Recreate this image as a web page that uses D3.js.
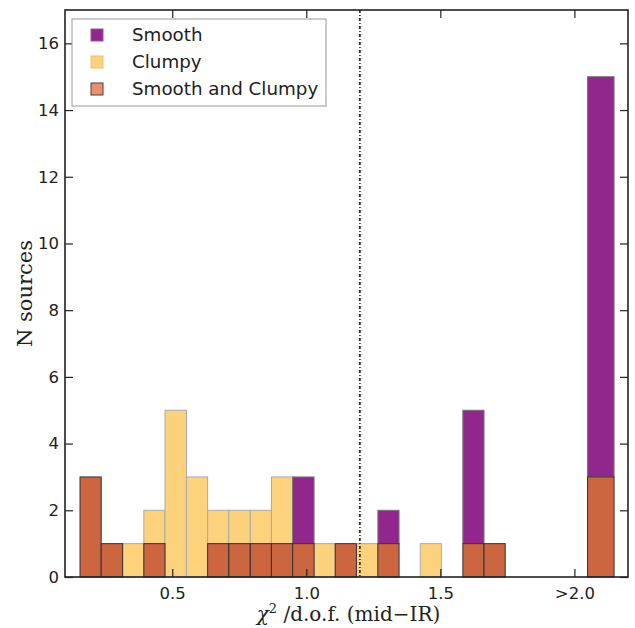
<!DOCTYPE html>
<html><head><meta charset="utf-8">
<script src="https://cdn.jsdelivr.net/npm/d3@7"></script>
<style>body{margin:0;background:#fff}svg{display:block}</style>
</head><body><svg id="c" width="635" height="628"></svg>
<script>
// bin edges (chi2/dof values)
const binLo = [0.156,0.235,0.315,0.394,0.473,0.553,0.632,0.711,0.791,0.870,0.949,1.029,1.108,1.187,1.267,1.346,1.425,1.504,1.584,1.663,1.742,1.822,1.901,1.980,2.049];
const binHi = [0.235,0.315,0.394,0.473,0.553,0.632,0.711,0.791,0.870,0.949,1.029,1.108,1.187,1.267,1.346,1.425,1.504,1.584,1.663,1.742,1.822,1.901,1.980,2.049,2.148];
// counts per bin
const both   = [3,1,0,1,0,0,1,1,1,1,1,0,1,0,1,0,0,0,1,1,0,0,0,0,3];
const clumpy = [0,0,1,1,5,3,1,1,1,2,0,1,0,1,0,0,1,0,0,0,0,0,0,0,0];
const smooth = [0,0,0,0,0,0,0,0,0,0,2,0,0,0,1,0,0,0,4,0,0,0,0,0,12];
const seriesNames = ["Smooth","Clumpy","Smooth and Clumpy"];
const xTickVals = [0.5,1.0,1.5,2.0];
const xTickLabels = ["0.5","1.0","1.5",">2.0"];
const yTickVals = [0,2,4,6,8,10,12,14,16];
const threshold = 1.2;

const W=635,H=628, m={l:65,r:7,t:10,b:51};
const svg=d3.select("#c");
const x=d3.scaleLinear().domain([0.1,2.2]).range([m.l,W-m.r]);
const y=d3.scaleLinear().domain([0,17]).range([H-m.b,m.t]);

const rows=binLo.map((lo,i)=>({lo,hi:binHi[i],both:both[i],clumpy:clumpy[i],smooth:smooth[i]}));
const keys=["both","clumpy","smooth"];
const fill={both:"#cb6640",clumpy:"#fdd27d",smooth:"#91268c"};
const edge={both:"#333",clumpy:"#aaa",smooth:"#777"};
const stack=d3.stack().keys(keys)(rows);

["clumpy","smooth","both"].forEach(k=>{
  const layer=stack.find(s=>s.key===k);
  svg.append("g").selectAll("rect").data(layer.filter(d=>d[1]>d[0])).join("rect")
    .attr("x",d=>x(d.data.lo)).attr("width",d=>x(d.data.hi)-x(d.data.lo))
    .attr("y",d=>y(d[1])).attr("height",d=>y(d[0])-y(d[1]))
    .attr("fill",fill[k]).attr("stroke",edge[k]).attr("stroke-width",1);
});

// threshold line
svg.append("line").attr("x1",x(threshold)).attr("x2",x(threshold))
  .attr("y1",y(17)).attr("y2",y(0)).attr("stroke","#222").attr("stroke-width",1.6)
  .attr("stroke-dasharray","3,2,1,2");

const fontTick="'DejaVu Sans', sans-serif";
const xb=d3.axisBottom(x).tickValues(xTickVals).tickFormat((d,i)=>xTickLabels[i]).tickSizeInner(-8).tickSizeOuter(0).tickPadding(10);
const xt=d3.axisTop(x).tickValues(xTickVals).tickFormat("").tickSizeInner(-8).tickSizeOuter(0);
const yl=d3.axisLeft(y).tickValues(yTickVals).tickFormat(d3.format("d")).tickSizeInner(-8).tickSizeOuter(0).tickPadding(6);
const yr=d3.axisRight(y).tickValues(yTickVals).tickFormat("").tickSizeInner(-8).tickSizeOuter(0);
function style(g){g.select(".domain").remove();g.selectAll("line").attr("stroke","#222").attr("stroke-width",1.2);
  g.selectAll("text").attr("fill","#222").style("font-family",fontTick).style("font-size","16.5px");}
svg.append("g").attr("transform",`translate(0,${y(0)})`).call(xb).call(style);
svg.append("g").attr("transform",`translate(0,${y(17)})`).call(xt).call(style);
svg.append("g").attr("transform",`translate(${x(0.1)},0)`).call(yl).call(style);
svg.append("g").attr("transform",`translate(${x(2.2)},0)`).call(yr).call(style);
svg.append("rect").attr("x",x(0.1)).attr("y",y(17)).attr("width",x(2.2)-x(0.1)).attr("height",y(0)-y(17))
  .attr("fill","none").attr("stroke","#222").attr("stroke-width",1.6);

// axis labels
const serif="'DejaVu Serif',serif";
const xl=svg.append("text").attr("x",(x(0.1)+x(2.2))/2+2).attr("y",621).attr("text-anchor","middle")
  .style("font-family",serif).style("font-size","20px").attr("fill","#222");
xl.append("tspan").text("χ").style("font-style","italic");
xl.append("tspan").text("2").attr("dy",-8).style("font-size","13px");
xl.append("tspan").text(" /d.o.f. (mid−IR)").attr("dy",8);
svg.append("text").attr("transform",`translate(32,${(y(0)+y(17))/2}) rotate(-90)`).attr("text-anchor","middle")
  .style("font-family",serif).style("font-size","21px").attr("fill","#222").text("N sources");

// legend
const lg=svg.append("g");
lg.append("rect").attr("x",72).attr("y",19).attr("width",254).attr("height",87).attr("fill","#fff").attr("stroke","#999").attr("stroke-width",1);
const legFill=["#91268c","#fdd27d","#e99073"], legEdge=["#a050a0","#e8c080","#5a3a30"];
seriesNames.forEach((n,i)=>{
  const cy=35+i*27;
  lg.append("rect").attr("x",91).attr("y",cy-6).attr("width",12).attr("height",12).attr("fill",legFill[i]).attr("stroke",legEdge[i]).attr("stroke-width",1);
  lg.append("text").attr("x",132).attr("y",cy+6).text(n).style("font-family",fontTick).style("font-size","18.3px").attr("fill","#222");
});
</script></body></html>
